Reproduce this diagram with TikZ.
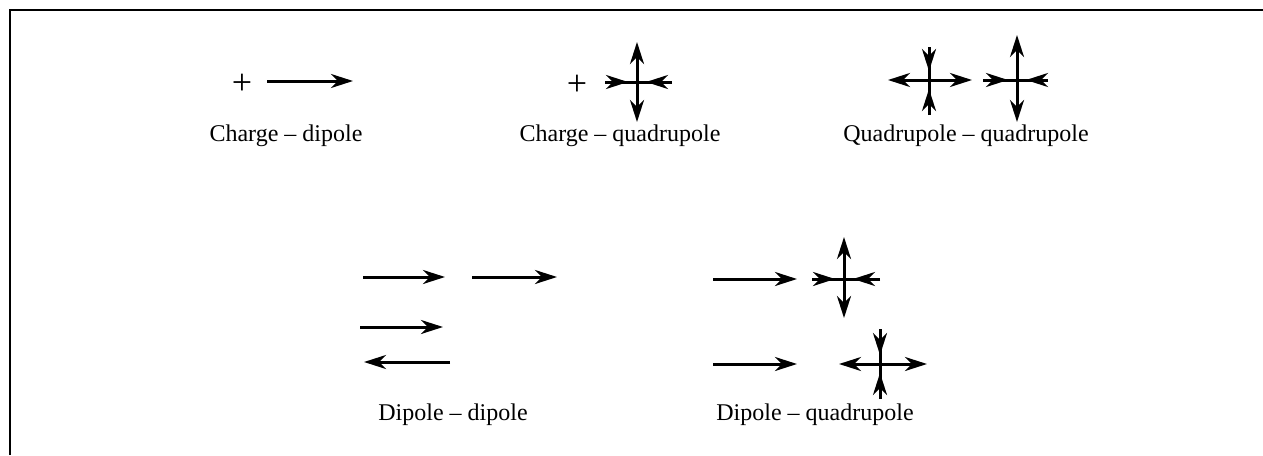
\documentclass[tikz,border=0pt]{standalone}
\usepackage{fontspec}
\setmainfont{Liberation Serif}
\usetikzlibrary{arrows.meta,calc}
\tikzset{
  line/.style={line width=1.5pt},
  arr/.style={line width=1.5pt,-{Stealth[length=11pt,width=7pt,inset=3.5pt]}},
  frame/.style={line width=1pt},
  lbl/.style={anchor=base,inner sep=0pt,font=\fontsize{12}{14}\selectfont},
  plus/.style={inner sep=0pt,font=\fontsize{18}{18}\selectfont},
}
% outward arms: from centre #1 to ends #2 and #3
\newcommand\armsout[3]{\draw[arr] (#1) -- (#2); \draw[arr] (#1) -- (#3);}
% inward arms: from ends #2, #3 towards centre #1
\newcommand\armsin[3]{\draw[line] (#2) -- (#3);
  \draw[arr,shorten >=4.5pt] (#2) -- (#1); \draw[arr,shorten >=4.5pt] (#3) -- (#1);}
\begin{document}
\begin{tikzpicture}[x=0.5pt,y=-0.5pt]
\useasboundingbox (0,0) rectangle (1263,455);
% frame
\coordinate (fbl) at (10,455); \coordinate (ftl) at (10,10); \coordinate (ftr) at (1263,10);
\draw[frame] (fbl) -- (ftl) -- (ftr);

% ---- Charge - dipole
\node[plus] (p1) at (242,84) {+};
\coordinate (a1s) at (267,81); \coordinate (a1e) at (353,81);
\draw[arr] (a1s) -- (a1e);
\node[lbl] (l1) at (286,141) {Charge -- dipole};

% ---- Charge - quadrupole
\node[plus] (p2) at (577,85) {+};
\coordinate (qa) at (637,82);
\coordinate (qal) at (605,82); \coordinate (qar) at (672,82);
\coordinate (qau) at (637,42); \coordinate (qad) at (637,122);
\armsin{qa}{qal}{qar}
\armsout{qa}{qau}{qad}
\node[lbl] (l2) at (620,141) {Charge -- quadrupole};

% ---- Quadrupole - quadrupole
\coordinate (qb) at (929,80);
\coordinate (qbl) at (888,80); \coordinate (qbr) at (972,80);
\coordinate (qbu) at (929,47); \coordinate (qbd) at (929,115);
\armsout{qb}{qbl}{qbr}
\armsin{qb}{qbu}{qbd}
\coordinate (qc) at (1017,80);
\coordinate (qcl) at (983,80); \coordinate (qcr) at (1048,80);
\coordinate (qcu) at (1017,35); \coordinate (qcd) at (1017,122);
\armsin{qc}{qcl}{qcr}
\armsout{qc}{qcu}{qcd}
\node[lbl] (l3) at (966,141) {Quadrupole -- quadrupole};

% ---- Dipole - dipole
\coordinate (b1s) at (363,277); \coordinate (b1e) at (445,277);
\coordinate (b2s) at (472,277); \coordinate (b2e) at (557,277);
\coordinate (b3s) at (360,327); \coordinate (b3e) at (443,327);
\coordinate (b4s) at (450,362); \coordinate (b4e) at (364,362);
\draw[arr] (b1s) -- (b1e);
\draw[arr] (b2s) -- (b2e);
\draw[arr] (b3s) -- (b3e);
\draw[arr] (b4s) -- (b4e);
\node[lbl] (l4) at (453,420) {Dipole -- dipole};

% ---- Dipole - quadrupole
\coordinate (c1s) at (713,279); \coordinate (c1e) at (797,279);
\draw[arr] (c1s) -- (c1e);
\coordinate (qd) at (844,279);
\coordinate (qdl) at (812,279); \coordinate (qdr) at (880,279);
\coordinate (qdu) at (844,237); \coordinate (qdd) at (844,318);
\armsin{qd}{qdl}{qdr}
\armsout{qd}{qdu}{qdd}
\coordinate (c2s) at (713,364); \coordinate (c2e) at (797,364);
\draw[arr] (c2s) -- (c2e);
\coordinate (qe) at (880,364);
\coordinate (qel) at (839,364); \coordinate (qer) at (927,364);
\coordinate (qeu) at (880,329); \coordinate (qed) at (880,399);
\armsout{qe}{qel}{qer}
\armsin{qe}{qeu}{qed}
\node[lbl] (l5) at (815,420) {Dipole -- quadrupole};
\end{tikzpicture}
\end{document}
